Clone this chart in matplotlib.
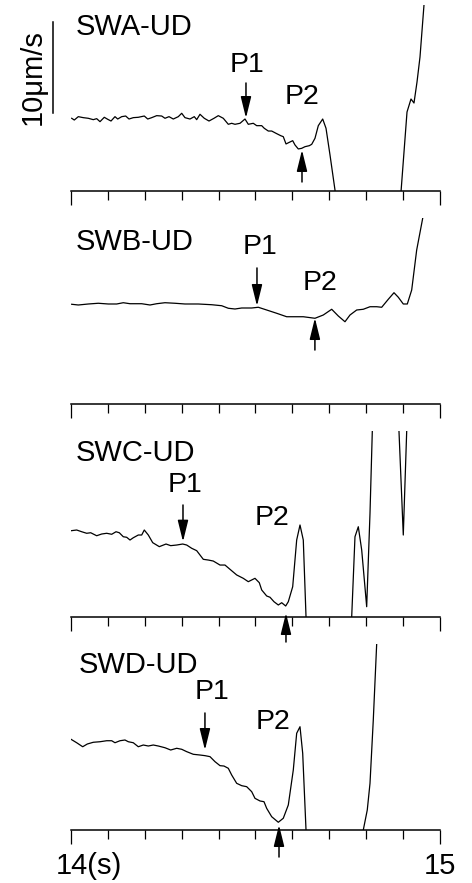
import numpy as np
import matplotlib
matplotlib.use("Agg")
import matplotlib.pyplot as plt
import matplotlib.transforms as mtransforms

plt.rcParams['font.family'] = ['Liberation Sans', 'DejaVu Sans']

# ---------------- data (time in ms after 14 s, velocity in um/s) ----------------
stations = ["SWA-UD", "SWB-UD", "SWC-UD", "SWD-UD"]

ms_A = [1.9, 8.9, 19.8, 33.3, 46.9, 60.4, 69.6, 78.6, 90.2, 99.5, 108.4, 119.2, 126.6, 137.4,
        148.2, 157.2, 168.8, 182.4, 198.6, 207.9, 218.7, 232.2, 245.8, 254.7, 265.6, 277.2,
        290.8, 300.0, 308.9, 322.5, 334.1, 340.6, 349.6, 361.2, 374.0, 387.5, 399.2, 412.7,
        426.3, 435.5, 444.4, 458.0, 471.5, 480.5, 494.0, 503.2, 516.8, 523.8, 534.7, 543.9,
        555.6, 568.3, 575.3, 582.7, 591.6, 600.8, 607.0, 616.0, 625.2, 634.1, 645.8, 652.3,
        661.2, 670.2, 682.1, 691.1, 701.9, 715.4, 720.9, 886.2, 894.3, 910.6, 921.4, 929.5,
        937.7, 945.8, 956.6, 962.0]
vel_A = [7.99, 7.80, 8.17, 8.06, 7.99, 7.84, 7.95, 7.62, 8.10, 7.88, 7.69, 8.17, 7.91, 8.17,
         8.24, 7.91, 8.06, 8.10, 8.24, 7.91, 8.06, 8.28, 8.24, 7.99, 8.17, 7.91,
         8.17, 8.54, 8.06, 7.91, 8.17, 7.84, 8.43, 7.99, 7.69, 7.99, 8.28, 7.99,
         7.33, 7.44, 7.33, 7.44, 7.91, 7.33, 7.44, 7.18, 7.18, 6.89, 6.59, 6.59,
         6.34, 6.08, 5.97, 5.17, 5.35, 5.53, 5.06, 4.62, 4.69, 4.87, 4.98, 5.13,
         5.79, 7.18, 7.91, 6.89, 3.96, 0.11, -2.64, -2.64, -0.11, 8.68, 10.11, 9.67,
         11.98, 14.73, 20.44, 22.6]

ms_B = [1.9, 19.8, 46.9, 74.0, 101.1, 123.8, 141.7, 159.9, 191.6, 214.1, 232.2, 254.7, 281.8,
        308.9, 345.0, 381.3, 408.4, 426.3, 444.4, 462.6, 489.7, 507.6, 530.3, 557.4, 584.5,
        629.5, 661.2, 683.7, 706.5, 724.4, 742.5, 756.1, 774.2, 792.1, 810.3, 828.4, 842.0,
        859.9, 875.3, 887.0, 900.5, 911.4, 923.3, 936.8, 953.1, 956.6]
vel_B = [10.96, 10.88, 10.99, 11.07, 10.99, 10.99, 11.13, 11.02, 11.02, 10.88, 11.02, 11.13, 11.07,
         10.99, 10.99, 10.91, 10.80, 10.52, 10.44, 10.55, 10.55, 10.63, 10.33, 9.97, 9.59,
         9.59, 9.42, 9.78, 10.41, 9.67, 9.04, 9.78, 10.33, 10.41, 10.69, 10.69, 10.63,
         11.51, 12.23, 11.73, 10.99, 10.99, 12.53, 16.92, 20.41, 21.3]

ms_C = [0.0, 15.4, 29.0, 42.5, 53.4, 69.6, 83.2, 96.7, 110.3, 122.0, 130.9, 141.7, 150.9, 159.9,
        168.8, 182.4, 191.6, 198.6, 209.5, 221.4, 239.3, 257.5, 270.2, 286.4, 302.7, 313.5,
        327.1, 340.6, 358.5, 372.1, 385.6, 403.8, 417.3, 430.9, 449.0, 466.9, 480.5, 489.7,
        498.6, 510.3, 516.8, 530.3, 539.3, 550.1, 561.8, 571.0, 581.8, 588.9, 600.8, 611.6,
        620.6, 629.5, 636.9, 642.3, 756.1, 760.7, 769.6, 778.6, 787.8, 801.3, 810.3, 816.5,
        819.5, 885.0, 888.9, 900.5, 909.7, 912.5]
vel_C = [9.48, 9.56, 9.37, 9.20, 9.26, 8.93, 9.12, 9.20, 9.09, 9.37, 9.26, 8.82, 8.76, 8.46,
         8.71, 9.01, 9.01, 9.56, 9.01, 8.17, 7.73, 8.02, 7.84, 7.91, 8.02, 7.91,
         7.55, 7.29, 6.34, 6.26, 6.15, 5.71, 5.71, 5.24, 4.62, 4.25, 3.88, 4.07,
         4.25, 3.77, 2.97, 2.31, 2.17, 1.68, 1.32, 1.57, 1.21, 1.68, 3.33, 8.46,
         10.11, 8.46, 0.03, -2.53, -2.53, 0.03, 8.82, 9.92, 7.36, 1.13, 11.40, 20.36,
         24.0, 24.0, 20.36, 9.01, 20.36, 24.0]

ms_D = [0.0, 15.4, 31.7, 44.2, 60.4, 78.6, 96.7, 110.3, 119.2, 132.8, 146.3, 155.3, 168.8, 182.4,
        195.9, 209.5, 223.0, 236.6, 254.7, 270.2, 286.4, 300.0, 313.5, 331.4, 349.6, 363.1,
        376.7, 390.2, 403.8, 414.6, 426.3, 435.5, 449.0, 462.6, 476.1, 489.7, 498.6, 512.2,
        523.0, 530.3, 543.9, 561.8, 575.3, 588.9, 602.4, 611.6, 620.6, 627.9, 636.9, 642.3,
        785.9, 792.1, 802.9, 810.3, 819.2, 828.4, 832.0]
vel_D = [9.97, 9.59, 9.15, 9.45, 9.64, 9.70, 9.81, 9.81, 9.59, 9.81, 9.89, 9.70, 9.59, 9.15,
         9.34, 9.23, 9.34, 9.23, 9.04, 8.79, 8.98, 8.87, 8.61, 8.32, 8.24, 8.17,
         8.06, 7.51, 7.07, 7.03, 6.78, 6.04, 5.13, 4.87, 4.76, 4.21, 3.48, 3.19,
         3.11, 2.38, 1.46, 0.85, 1.29, 2.75, 6.59, 10.63, 11.35, 8.43, 0.0, -2.2,
         -2.2, 0.0, 2.20, 5.13, 12.09, 20.44, 24.2]

traces_ms = [ms_A, ms_B, ms_C, ms_D]
traces_vel = [vel_A, vel_B, vel_C, vel_D]

# phase picks (ms after 14 s) and velocity at arrow tips
p1_ms = [474.2, 504.0, 303.5, 363.0]
p1_tip = [8.02, 10.77, 8.28, 8.79]
p2_ms = [626.0, 661.0, 582.6, 563.7]
p2_tip = [4.51, 9.45, 0.44, 0.55]

tick_labels = ["14(s)", "15"]
scale_um_s = 10

# ---------------- layout ----------------
W, H = 472, 883
fig = plt.figure(figsize=(W / 100, H / 100), dpi=100)

left = 71 / W
width = 369 / W
ax_h = 186 / H
bottoms_px = [191, 404, 617, 830]
ylim = (0, 20.44)

p1_len = [3.85, 4.18, 4.03, 4.07]
p1_text = [(477, 13.85), (512, 17.25), (309, 14.51), (382, 15.17)]
p2_len = [3.52, 3.52, 3.19, 3.52]
p2_text = [(626, 10.33), (675, 13.30), (545, 10.88), (547, 11.87)]
name_pos = [(13.6, 18.0), (13.6, 17.8), (13.6, 18.02), (21.7, 18.13)]

arrowprops = dict(arrowstyle='-|>,head_length=1.3,head_width=0.32', mutation_scale=10,
                  lw=1.1, color='k', shrinkA=0, shrinkB=0)

axes = []
for i in range(4):
    b = 1 - bottoms_px[i] / H
    ax = fig.add_axes([left, b, width, ax_h])
    axes.append(ax)
    t = 14 + np.array(traces_ms[i]) / 1000.0
    ax.plot(t, traces_vel[i], color='k', lw=0.9)
    ax.set_xlim(14, 15)
    ax.set_ylim(*ylim)
    for s in ['top', 'left', 'right']:
        ax.spines[s].set_visible(False)
    ax.spines['bottom'].set_linewidth(1.1)
    ax.set_yticks([])
    ax.set_xticks([14, 15])
    ax.set_xticks(np.arange(14, 15.0001, 0.1), minor=True)
    ax.tick_params(axis='x', which='major', direction='out', length=10, width=0.9, pad=6,
                   labelsize=21)
    ax.tick_params(axis='x', which='minor', direction='out', length=6.5, width=0.9)
    ax.patch.set_visible(False)
    if i < 3:
        ax.set_xticklabels([])
    else:
        ax.set_xticklabels(tick_labels)
        lab = ax.get_xticklabels()[0]
        lab.set_horizontalalignment('left')
        lab.set_transform(lab.get_transform() +
                          mtransforms.ScaledTranslation(-15 / 100, 0, fig.dpi_scale_trans))

    nx, ny = name_pos[i]
    ax.text(14 + nx / 1000, ny, stations[i], fontsize=21, ha='left', va='center')

    x1 = 14 + p1_ms[i] / 1000
    ax.annotate('', xy=(x1, p1_tip[i]), xytext=(x1, p1_tip[i] + p1_len[i]),
                arrowprops=arrowprops, annotation_clip=False)
    ax.text(14 + p1_text[i][0] / 1000, p1_text[i][1], 'P1', fontsize=20.5, ha='center', va='center')

    x2 = 14 + p2_ms[i] / 1000
    ax.annotate('', xy=(x2, p2_tip[i]), xytext=(x2, p2_tip[i] - p2_len[i]),
                arrowprops=arrowprops, annotation_clip=False)
    ax.text(14 + p2_text[i][0] / 1000, p2_text[i][1], 'P2', fontsize=20.5, ha='center', va='center')

axA = axes[0]
xs = 13.951
axA.plot([xs, xs], [8.57, 8.57 + scale_um_s], color='k', lw=1.1, clip_on=False)
axA.text(13.897, 12.5, '10\u03bcm/s', fontsize=21, rotation=90, ha='center', va='center')

fig.savefig('out.png', dpi=100)
